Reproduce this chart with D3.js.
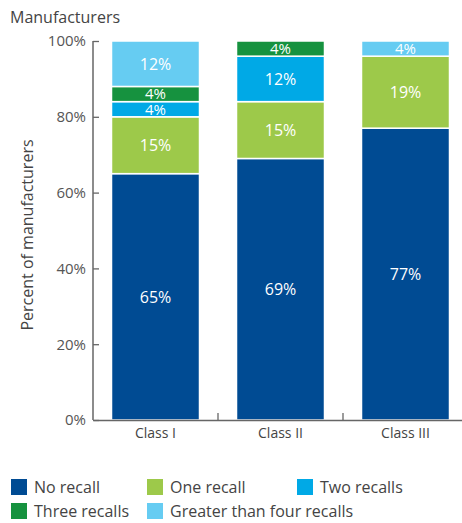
<!DOCTYPE html>
<html><head><meta charset="utf-8">
<script src="https://cdn.jsdelivr.net/npm/d3@7"></script>
<style>
body{margin:0;background:#fff;}
text{font-family:"Open Sans","Noto Sans",sans-serif;}
</style></head>
<body><svg id="c" width="462" height="523"></svg>
<script>
const categories = ["Class I", "Class II", "Class III"];
const seriesNames = ["No recall", "One recall", "Two recalls", "Three recalls", "Greater than four recalls"];
const noRecall = [65, 69, 77];
const oneRecall = [15, 15, 19];
const twoRecalls = [4, 12, 0];
const threeRecalls = [4, 4, 0];
const greaterThanFour = [12, 0, 4];
const yTicks = [0, 20, 40, 60, 80, 100];
const colors = ["#004b93", "#9dc94a", "#00a9e6", "#16923f", "#66ccf2"];

const seriesValues = [noRecall, oneRecall, twoRecalls, threeRecalls, greaterThanFour];
const rows = categories.map((c, i) => {
  const r = {cat: c};
  seriesNames.forEach((s, j) => r[s] = seriesValues[j][i]);
  return r;
});
const stack = d3.stack().keys(seriesNames)(rows);

const svg = d3.select("#c");
const x = d3.scaleBand().domain(categories).range([93, 468]).paddingInner(0.296).paddingOuter(0.148);
const y = d3.scaleLinear().domain([0, 100]).range([420, 41]);
const color = d3.scaleOrdinal().domain(seriesNames).range(colors);

// bars
const g = svg.append("g");
stack.forEach(layer => {
  layer.forEach((d, i) => {
    const v = d[1] - d[0];
    if (v <= 0) return;
    g.append("rect")
      .attr("x", x(categories[i]))
      .attr("width", x.bandwidth())
      .attr("y", y(d[1]))
      .attr("height", y(d[0]) - y(d[1]))
      .attr("fill", color(layer.key))
      .attr("stroke", "#fff").attr("stroke-width", 1.5);
    const h = y(d[0]) - y(d[1]);
    g.append("text")
      .attr("x", x(categories[i]) + x.bandwidth() / 2)
      .attr("y", (y(d[0]) + y(d[1])) / 2)
      .attr("dy", "0.36em")
      .attr("text-anchor", "middle")
      .attr("fill", "#fff")
      .attr("font-size", h < 20 ? 15 : 16)
      .text(v + "%");
  });
});

// y axis
const yAxis = d3.axisRight(y).tickValues(yTicks).tickSize(6).tickFormat(d => d + "%");
const ya = svg.append("g").attr("transform", "translate(93,0)").call(yAxis);
ya.select(".domain").remove();
ya.selectAll(".tick line").attr("stroke", "#666").attr("stroke-width", 1.3);
ya.selectAll(".tick text").attr("x", -7).attr("text-anchor", "end")
  .attr("fill", "#555").attr("font-size", 15);
svg.append("line").attr("x1", 93).attr("x2", 93).attr("y1", 41).attr("y2", 420)
  .attr("stroke", "#666").attr("stroke-width", 1.5);

// x axis
const xAxis = d3.axisBottom(x).tickSize(0).tickPadding(8);
const xa = svg.append("g").attr("transform", "translate(0,420)").call(xAxis);
xa.select(".domain").attr("stroke", "#666").attr("stroke-width", 1.5);
xa.selectAll(".tick text").attr("fill", "#444").attr("font-size", 14);
const step = x.step();
categories.slice(1).forEach(c => {
  const bx = x(c) - step * x.paddingInner() / 2;
  svg.append("line").attr("x1", bx).attr("x2", bx).attr("y1", 420).attr("y2", 413)
    .attr("stroke", "#666").attr("stroke-width", 1.3);
});

// titles
svg.append("text").attr("x", 10).attr("y", 23).attr("font-size", 16).attr("fill", "#444").text("Manufacturers");
svg.append("text").attr("transform", "translate(33,235) rotate(-90)").attr("text-anchor", "middle")
  .attr("font-size", 16).attr("fill", "#444").text("Percent of manufacturers");

// legend
const legendPos = [[11, 479], [147, 479], [297, 479], [11, 503], [147, 503]];
seriesNames.forEach((s, j) => {
  const [lx, ly] = legendPos[j];
  svg.append("rect").attr("x", lx).attr("y", ly).attr("width", 16).attr("height", 16).attr("fill", color(s));
  svg.append("text").attr("x", lx + 23).attr("y", ly + 8).attr("dy", "0.36em")
    .attr("font-size", 16).attr("fill", "#444").text(s);
});
</script></body></html>
